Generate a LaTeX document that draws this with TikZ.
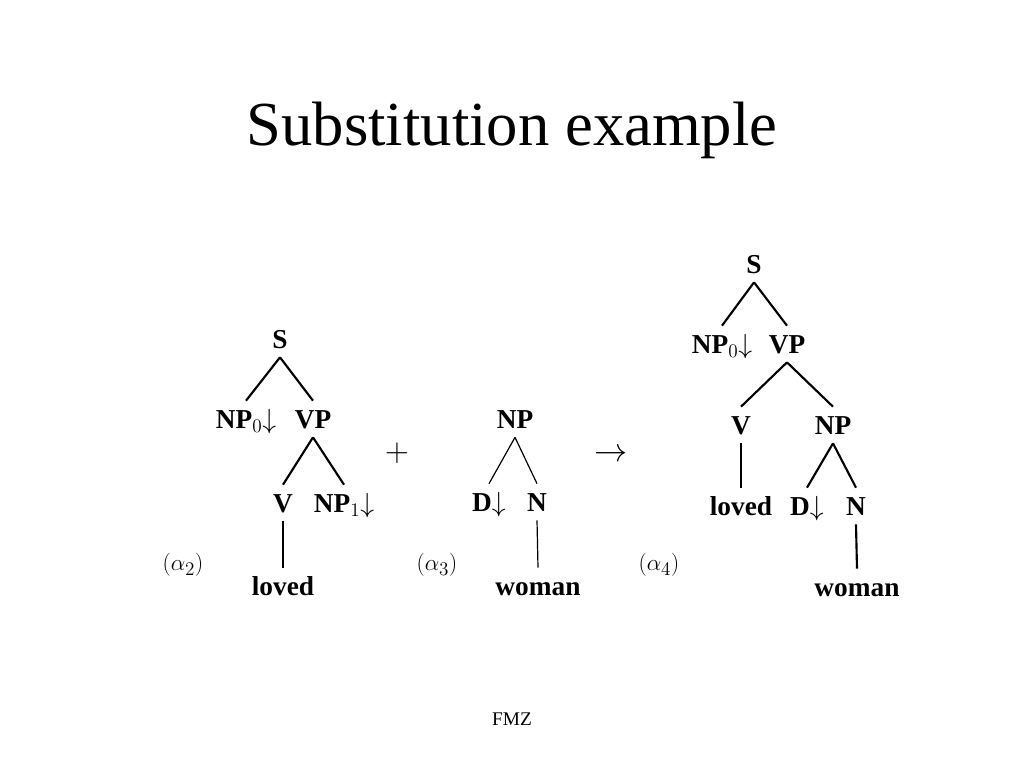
\documentclass[tikz,border=0pt]{standalone}
\usepackage{fontspec}
\setmainfont{Liberation Serif}
\begin{document}
\begin{tikzpicture}[x=0.75pt,y=-0.75pt,
  lab/.style={font=\bfseries\fontsize{20.5}{23}\selectfont, inner xsep=1pt, inner ysep=6.75pt, text height=13.6pt, text depth=0pt},
  br/.style={line width=1.6pt},
  brthin/.style={line width=0.9pt},
  tag/.style={font=\fontsize{19}{21}\selectfont, inner sep=0pt},
  op/.style={font=\fontsize{27.5}{30}\selectfont, inner sep=0pt}]
\path[use as bounding box, fill=white] (0,0) rectangle (1024,768);

\node[font=\fontsize{47}{52}\selectfont, anchor=base] (title) at (512,145) {Substitution example};
\node[font=\fontsize{14.5}{16}\selectfont, anchor=base] (fmz) at (512,725) {FMZ};

% left tree
\node[lab] (s1) at (280,339) {S};
\node[lab] (np01) at (246,419) {NP$_0{\downarrow}$};
\node[lab] (vp1) at (313,419) {VP};
\node[lab] (v1) at (283,503) {V};
\node[lab] (np11) at (344,503) {NP$_1{\downarrow}$};
\node[lab] (loved1) at (283,586) {loved};
\node[tag] (a2) at (183,565) {$(\alpha_2)$};
\draw[br] (s1.south) -- (np01.north);
\draw[br] (s1.south) -- (vp1.north);
\draw[br] (vp1.south) -- (v1.north);
\draw[br] (vp1.south) -- (np11.north);
\draw[br] (v1.south) -- (loved1.north);

\node[op] (plus) at (397,453) {$+$};

% middle tree
\node[lab] (np2) at (515,419) {NP};
\node[lab] (d2) at (489,502) {D${\downarrow}$};
\node[lab] (n2) at (537,502) {N};
\node[lab] (woman2) at (538,586) {woman};
\node[tag] (a3) at (437,565) {$(\alpha_3)$};
\draw[brthin] (np2.south) -- (d2.north);
\draw[brthin] (np2.south) -- (n2.north);
\draw[brthin] (n2.south) -- (woman2.north);

\node[op] (arrow) at (611,455) {$\rightarrow$};

% right tree
\node[lab] (s3) at (754,264) {S};
\node[lab] (np03) at (722,344) {NP$_0{\downarrow}$};
\node[lab] (vp3) at (787,344) {VP};
\node[lab] (v3) at (741,425) {V};
\node[lab] (np3) at (833,425) {NP};
\node[lab] (loved3) at (741,506) {loved};
\node[lab] (d3) at (807,506) {D${\downarrow}$};
\node[lab] (n3) at (856,506) {N};
\node[lab] (woman3) at (857,587) {woman};
\node[tag] (a4) at (659,565) {$(\alpha_4)$};
\draw[br] (s3.south) -- (np03.north);
\draw[br] (s3.south) -- (vp3.north);
\draw[br] (vp3.south) -- (v3.north);
\draw[br] (vp3.south) -- (np3.north);
\draw[br] (v3.south) -- (loved3.north);
\draw[br] (np3.south) -- (d3.north);
\draw[br] (np3.south) -- (n3.north);
\draw[br] (n3.south) -- (woman3.north);
\end{tikzpicture}
\end{document}
